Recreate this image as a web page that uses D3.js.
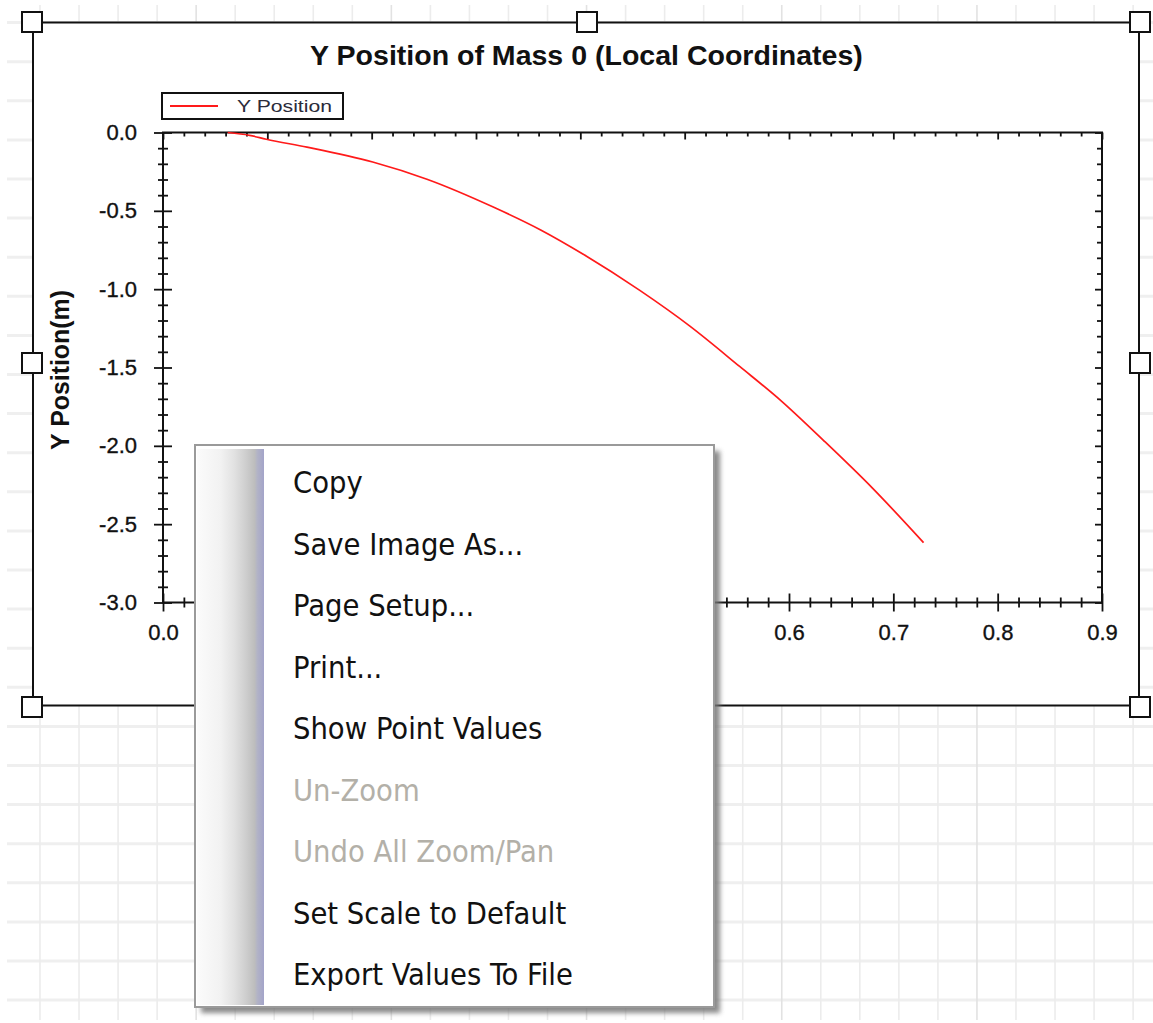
<!DOCTYPE html>
<html><head><meta charset="utf-8">
<script src="https://cdn.jsdelivr.net/npm/d3@7"></script>
<style>html,body{margin:0;padding:0;background:#fff;overflow:hidden}</style>
</head><body>
<script>
// ---- data ----
const chartTitle = "Y Position of Mass 0 (Local Coordinates)";
const yAxisTitle = "Y Position(m)";
const seriesName = "Y Position";
const xValues = [0.062, 0.083, 0.099, 0.138, 0.201, 0.253, 0.316, 0.362, 0.404, 0.457, 0.505, 0.553, 0.593, 0.633, 0.680, 0.729];
const yValues = [0.000, -0.018, -0.043, -0.093, -0.188, -0.298, -0.474, -0.622, -0.782, -1.008, -1.236, -1.495, -1.716, -1.965, -2.270, -2.618];
const xTickValues = [0.0, 0.1, 0.2, 0.3, 0.4, 0.5, 0.6, 0.7, 0.8, 0.9];
const yTickValues = [0.0, -0.5, -1.0, -1.5, -2.0, -2.5, -3.0];
const menuItems = ["Copy", "Save Image As...", "Page Setup...", "Print...", "Show Point Values", "Un-Zoom", "Undo All Zoom/Pan", "Set Scale to Default", "Export Values To File"];
const menuEnabled = [true, true, true, true, true, false, false, true, true];

const W = 1153, H = 1023;
const svg = d3.select("body").append("svg").attr("width", W).attr("height", H)
  .style("font-family", "'Liberation Sans', Arial, sans-serif");

// background grid
const bg = svg.append("g");
bg.append("rect").attr("width", W).attr("height", H).attr("fill", "#fff");
const gx = d3.range(0, 29).map(k => 40 + 39.04 * k);
const gy = d3.range(0, 27).map(k => 22.6 + 39.1 * k);
bg.selectAll("line.h").data(gy).join("line").attr("class", "h")
  .attr("x1", 7).attr("x2", W).attr("y1", d => d).attr("y2", d => d)
  .attr("stroke", "#efefef").attr("stroke-width", 3);
bg.selectAll("line.v").data(gx).join("line").attr("class", "v")
  .attr("x1", d => d).attr("x2", d => d).attr("y1", 5).attr("y2", 1020)
  .attr("stroke", (d, i) => i % 5 === 4 ? "#e2e2e2" : "#ececec").attr("stroke-width", 1.6);

// chart frame
svg.append("rect").attr("x", 33).attr("y", 22.5).attr("width", 1106).attr("height", 683)
  .attr("fill", "#fff").attr("stroke", "#111").attr("stroke-width", 2);

const x = d3.scaleLinear().domain([0, 0.9]).range([163, 1102]);
const y = d3.scaleLinear().domain([-3, 0]).range([602.5, 132.5]);

function fit(sel, width) {
  const n = sel.node();
  const w = n.getComputedTextLength();
  const fs = parseFloat(sel.attr("font-size"));
  sel.attr("font-size", fs * width / w);
}

// title
const t = svg.append("text").attr("x", 586.5).attr("y", 65).attr("text-anchor", "middle")
  .attr("font-weight", "bold").attr("font-size", 22).attr("fill", "#111").text(chartTitle);
fit(t, 553);

// axes
const fmt = v => v.toFixed(1);
const xMinor = d3.range(0, 0.9001, 0.02);
const yMinor = d3.range(-3, 0.0001, 0.1);
const isMajorX = v => Math.abs(v * 10 - Math.round(v * 10)) < 1e-6;
const isMajorY = v => Math.abs(v * 2 - Math.round(v * 2)) < 1e-6;

function drawTicks(axis, tr, vals, sizeFn, offFn, horiz) {
  const g = svg.append("g").attr("transform", tr).call(axis.tickValues(vals).tickFormat(""));
  g.select(".domain").remove();
  g.selectAll(".tick line").each(function(d) {
    const s = sizeFn(d), o = offFn(d);
    if (horiz) d3.select(this).attr("y1", o).attr("y2", o + s);
    else d3.select(this).attr("x1", o).attr("x2", o + s);
  }).attr("stroke", "#111").attr("stroke-width", 1.8);
  return g;
}
drawTicks(d3.axisBottom(x), "translate(0,602.5)", xMinor,
  d => isMajorX(d) ? 18 : 10, d => isMajorX(d) ? -9 : -5, true);
drawTicks(d3.axisBottom(x), "translate(0,132.5)", xMinor,
  d => isMajorX(d) ? 7 : 4, d => 0, true);
drawTicks(d3.axisLeft(y), "translate(163,0)", yMinor,
  d => isMajorY(d) ? 18 : 10, d => isMajorY(d) ? -9 : -5, false);
drawTicks(d3.axisLeft(y), "translate(1102,0)", yMinor,
  d => isMajorY(d) ? -7 : -5, d => 0, false);

svg.append("rect").attr("x", x(0)).attr("y", y(0)).attr("width", x(0.9) - x(0)).attr("height", y(-3) - y(0))
  .attr("fill", "none").attr("stroke", "#111").attr("stroke-width", 2);

const xl = svg.append("g").attr("transform", "translate(0,602.5)")
  .call(d3.axisBottom(x).tickValues(xTickValues).tickFormat(fmt).tickSize(0).tickPadding(22));
xl.select(".domain").remove();
xl.selectAll("text").attr("font-size", 22).attr("font-family", "'Liberation Sans', Arial, sans-serif")
  .attr("fill", "#111").attr("stroke", "#111").attr("stroke-width", 0.35);
const yl = svg.append("g").attr("transform", "translate(163,0)")
  .call(d3.axisLeft(y).tickValues(yTickValues).tickFormat(fmt).tickSize(0).tickPadding(26));
yl.select(".domain").remove();
yl.selectAll("text").attr("font-size", 22).attr("font-family", "'Liberation Sans', Arial, sans-serif")
  .attr("fill", "#111").attr("stroke", "#111").attr("stroke-width", 0.35);

const yt = svg.append("text").attr("transform", "translate(69,370) rotate(-90)").attr("text-anchor", "middle")
  .attr("font-weight", "bold").attr("font-size", 18).attr("fill", "#111").text(yAxisTitle);
fit(yt, 160);

// series line
const pts = xValues.map((v, i) => [v, yValues[i]]);
svg.append("path").datum(pts).attr("fill", "none").attr("stroke", "#ff1a1a").attr("stroke-width", 1.7)
  .attr("d", d3.line().x(d => x(d[0])).y(d => y(d[1])).curve(d3.curveMonotoneX));

// legend
svg.append("rect").attr("x", 162).attr("y", 93).attr("width", 181).attr("height", 26)
  .attr("fill", "#fff").attr("stroke", "#111").attr("stroke-width", 2);
svg.append("line").attr("x1", 170).attr("x2", 218).attr("y1", 106).attr("y2", 106)
  .attr("stroke", "#ff1a1a").attr("stroke-width", 2);
svg.append("text").attr("x", 237).attr("y", 112).attr("font-size", 17).attr("fill", "#2b2b3a").text(seriesName)
  .attr("textLength", 95).attr("lengthAdjust", "spacingAndGlyphs");

// selection handles
const handles = [[32, 22], [587, 22], [1140, 22], [32, 363], [1140, 363], [32, 707], [587, 707], [1140, 707]];
svg.selectAll("rect.handle").data(handles).join("rect").attr("class", "handle")
  .attr("x", d => d[0] - 10).attr("y", d => d[1] - 10).attr("width", 20).attr("height", 20)
  .attr("fill", "#fff").attr("stroke", "#111").attr("stroke-width", 2);

// context menu
const defs = svg.append("defs");
const f = defs.append("filter").attr("id", "sh").attr("x", "-10%").attr("y", "-10%").attr("width", "130%").attr("height", "130%");
f.append("feGaussianBlur").attr("stdDeviation", 2.5);
const lg = defs.append("linearGradient").attr("id", "strip");
[[0, "#fbfbfb"], [0.35, "#f2f2f2"], [0.55, "#e2e2e2"], [0.72, "#cfcfcf"], [0.86, "#bdbdbd"], [0.9, "#b2b3c6"], [1, "#a3a4c9"]]
  .forEach(([o, c]) => lg.append("stop").attr("offset", o).attr("stop-color", c));

const mx = 195, my = 445, mw = 519, mh = 562;
svg.append("rect").attr("x", mx + 6).attr("y", my + 6).attr("width", mw).attr("height", mh)
  .attr("fill", "#777").attr("opacity", 0.85).attr("filter", "url(#sh)");
svg.append("rect").attr("x", mx).attr("y", my).attr("width", mw).attr("height", mh)
  .attr("fill", "#fff").attr("stroke", "#9a9a9a").attr("stroke-width", 2);
svg.append("rect").attr("x", mx + 2).attr("y", my + 4).attr("width", 67).attr("height", mh - 6)
  .attr("fill", "url(#strip)");

const items = svg.append("g").selectAll("text").data(menuItems).join("text")
  .attr("x", 293).attr("y", (d, i) => 482 + 61.5 * i).attr("dy", "0.36em")
  .attr("font-family", "Tahoma, 'DejaVu Sans Condensed', 'Liberation Sans', sans-serif")
  .attr("font-size", 26).attr("fill", (d, i) => menuEnabled[i] ? "#111" : "#b3b0a8").text(d => d);
const ref = items.filter((d, i) => i === menuItems.length - 1);
const w0 = ref.node().getComputedTextLength();
items.attr("font-size", 26 * 280 / w0);
</script>
</body></html>
